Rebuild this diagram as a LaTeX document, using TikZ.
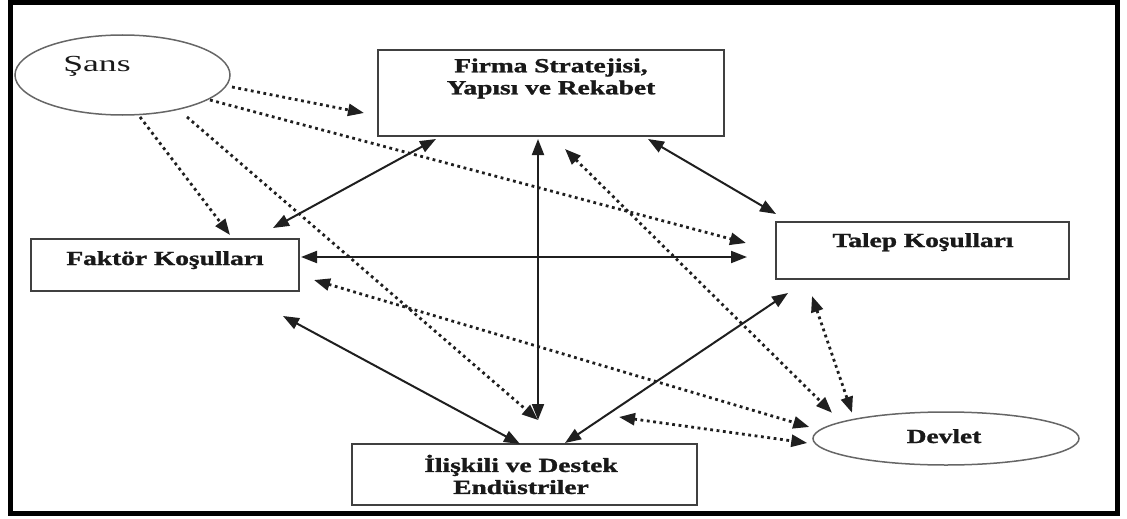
\documentclass[tikz,border=0pt]{standalone}
\usepackage{fontspec}
\setmainfont{Liberation Serif}[BoldFeatures={FakeBold=1.2}]
\usetikzlibrary{arrows.meta,calc,shapes.geometric}
% widened lettering used for every label
\newcommand{\wlbl}[1]{\scalebox{1.37}[1]{#1}}

\begin{document}
\begin{tikzpicture}[x=1pt,y=-1pt,
  box/.style={draw=black!75, line width=2pt, rectangle, inner sep=0pt},
  oval/.style={draw=black!60, line width=1.5pt, ellipse, inner sep=0pt},
  lbl/.style={font=\fontsize{20}{22}\selectfont\bfseries, text=black!90, align=center, inner sep=0pt},
  tip/.tip={Triangle[length=16pt,width=12pt]},
  solidlink/.style={line width=2pt, draw=black!88},
  dotlink/.style={line width=2.8pt, draw=black!88, dash pattern=on 2.8pt off 3.6pt}
]
\useasboundingbox (0,0) rectangle (1127,519);
% outer frame
\draw[line width=5pt] (10,2.5) rectangle (1117,513);

% the six determinants
\node[oval, minimum width=215pt, minimum height=80pt] (sans) at (122.5,75) {};
\node[box, minimum width=346pt, minimum height=86pt] (firma) at (551,93) {};
\node[box, minimum width=293pt, minimum height=57pt] (talep) at (922.5,250.5) {};
\node[box, minimum width=268pt, minimum height=52pt] (faktor) at (165,265) {};
\node[box, minimum width=345pt, minimum height=61pt] (iliskili) at (524.5,474.5) {};
\node[oval, minimum width=266pt, minimum height=53pt] (devlet) at (946,438.5) {};

% labels
\node[inner sep=0pt, anchor=base, font=\fontsize{23}{23}\selectfont, text=black!90] (sanstxt) at (97,72) {\scalebox{1.55}[1]{Şans}};
\node[lbl] (firmatxt) at (551,78.5) {\wlbl{Firma Stratejisi,}\\\wlbl{Yapısı ve Rekabet}};
\node[lbl, anchor=base] (taleptxt) at (923,247) {\wlbl{Talep Koşulları}};
\node[lbl, anchor=base] (faktortxt) at (165,265) {\wlbl{Faktör Koşulları}};
\node[lbl, anchor=base] (devlettxt) at (944,443) {\wlbl{Devlet}};
\node[lbl] (iliskilitxt) at (521,474.5) {\wlbl{İlişkili ve Destek}\\\wlbl{Endüstriler}};

% chance influences
\draw[dotlink, -tip] ($(sans.center)+(109.5,12)$) -- ($(firma.west)+(-13,20)$);
\draw[dotlink, -tip] ($(sans.center)+(87.5,25)$) -- ($(talep.west)+(-29,-7.5)$);
\draw[dotlink, -tip] ($(sans.center)+(17.5,42)$) -- ($(faktor.north)+(65,-3)$);
\draw[dotlink, -tip] ($(sans.center)+(64.5,42)$) -- ($(iliskili.north)+(13.5,-23)$);

% mutual links of the diamond
\draw[solidlink, tip-tip] ($(firma.south west)+(59,2)$) -- ($(faktor.north east)+(-27,-10)$);
\draw[solidlink, tip-tip] ($(firma.south)+(-13,2)$) -- ($(iliskili.north)+(13.5,-23)$);
\draw[solidlink, tip-tip] ($(firma.south east)+(-77,2)$) -- ($(talep.north west)+(1,-7)$);
\draw[solidlink, tip-tip] ($(faktor.east)+(1,-8)$) -- ($(talep.west)+(-28,6.5)$);
\draw[solidlink, tip-tip] ($(faktor.south east)+(-17,24)$) -- ($(iliskili.north)+(-4.5,1)$);
\draw[solidlink, tip-tip] ($(talep.south west)+(13,13)$) -- ($(iliskili.north)+(40.5,0)$);

% government links
\draw[dotlink, tip-tip] ($(faktor.east)+(14,15)$) -- ($(devlet.west)+(-3,-11.5)$);
\draw[dotlink, tip-tip] ($(firma.south)+(14,12)$) -- ($(devlet.north)+(-114,1.5)$);
\draw[dotlink, tip-tip] ($(talep.south west)+(37,16)$) -- ($(devlet.north)+(-94,1.5)$);
\draw[dotlink, tip-tip] ($(iliskili.north east)+(-79,-26)$) -- ($(devlet.west)+(-5,4.5)$);
\end{tikzpicture}
\end{document}
